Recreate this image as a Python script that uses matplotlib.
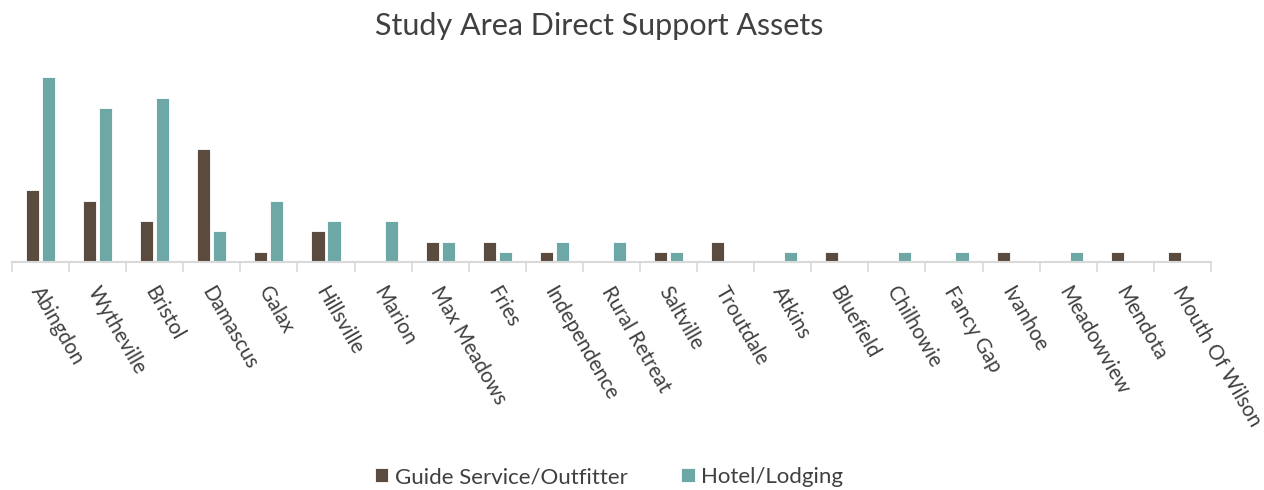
import matplotlib
matplotlib.use("agg")
import matplotlib.pyplot as plt
import numpy as np

TOWNS = ["Abingdon", "Wytheville", "Bristol", "Damascus", "Galax", "Hillsville",
         "Marion", "Max Meadows", "Fries", "Independence", "Rural Retreat",
         "Saltville", "Troutdale", "Atkins", "Bluefield", "Chilhowie",
         "Fancy Gap", "Ivanhoe", "Meadowview", "Mendota", "Mouth Of Wilson"]
GUIDE = [7, 6, 4, 11, 1, 3, 0, 2, 2, 1, 0, 1, 2, 0, 1, 0, 0, 1, 0, 1, 1]
HOTEL = [18, 15, 16, 3, 6, 4, 4, 2, 1, 2, 2, 1, 0, 1, 0, 1, 1, 0, 1, 0, 0]

GUIDE_COLOR = "#5b4a3e"
HOTEL_COLOR = "#6da8a6"
TEXT_COLOR = "#404040"
AXIS_COLOR = "#d9d9d9"

plt.rcParams["font.family"] = ["Lato", "DejaVu Sans"]

fig = plt.figure(figsize=(12.64, 4.9), dpi=100)
ax = fig.add_axes([0.0095, 0.465, 0.9485, 0.39])

x = np.arange(len(TOWNS))
w = 0.23
ax.bar(x - 0.14, GUIDE, w, color=GUIDE_COLOR, edgecolor="white", linewidth=0.6,
       label="Guide Service/Outfitter")
ax.bar(x + 0.14, HOTEL, w, color=HOTEL_COLOR, edgecolor="white", linewidth=0.6,
       label="Hotel/Lodging")

ax.set_xlim(-0.5, len(TOWNS) - 0.5)
ax.set_ylim(0, 18.6)

for s in ["top", "right", "left"]:
    ax.spines[s].set_visible(False)
ax.spines["bottom"].set_color(AXIS_COLOR)
ax.spines["bottom"].set_linewidth(1.5)
ax.set_yticks([])

# ticks at category boundaries, labels at centres
ax.set_xticks(x + 0.06)
ax.set_xticklabels(TOWNS, rotation=-60, ha="left", rotation_mode="anchor",
                   fontsize=14.8, color=TEXT_COLOR)
ax.tick_params(axis="x", which="major", length=0, pad=15)
ax.set_xticks(np.arange(len(TOWNS) + 1) - 0.5, minor=True)
ax.tick_params(axis="x", which="minor", length=7, width=1.2, color=AXIS_COLOR)

fig.suptitle("Study Area Direct Support Assets", x=0.474, y=0.975, fontsize=22,
             color=TEXT_COLOR)

fig.legend(loc="lower center", ncol=2, frameon=False, fontsize=16,
           bbox_to_anchor=(0.482, -0.035), handlelength=0.6, handleheight=0.6,
           handletextpad=0.3, columnspacing=2.4, labelcolor=TEXT_COLOR)

fig.savefig("out.png", dpi=100)
